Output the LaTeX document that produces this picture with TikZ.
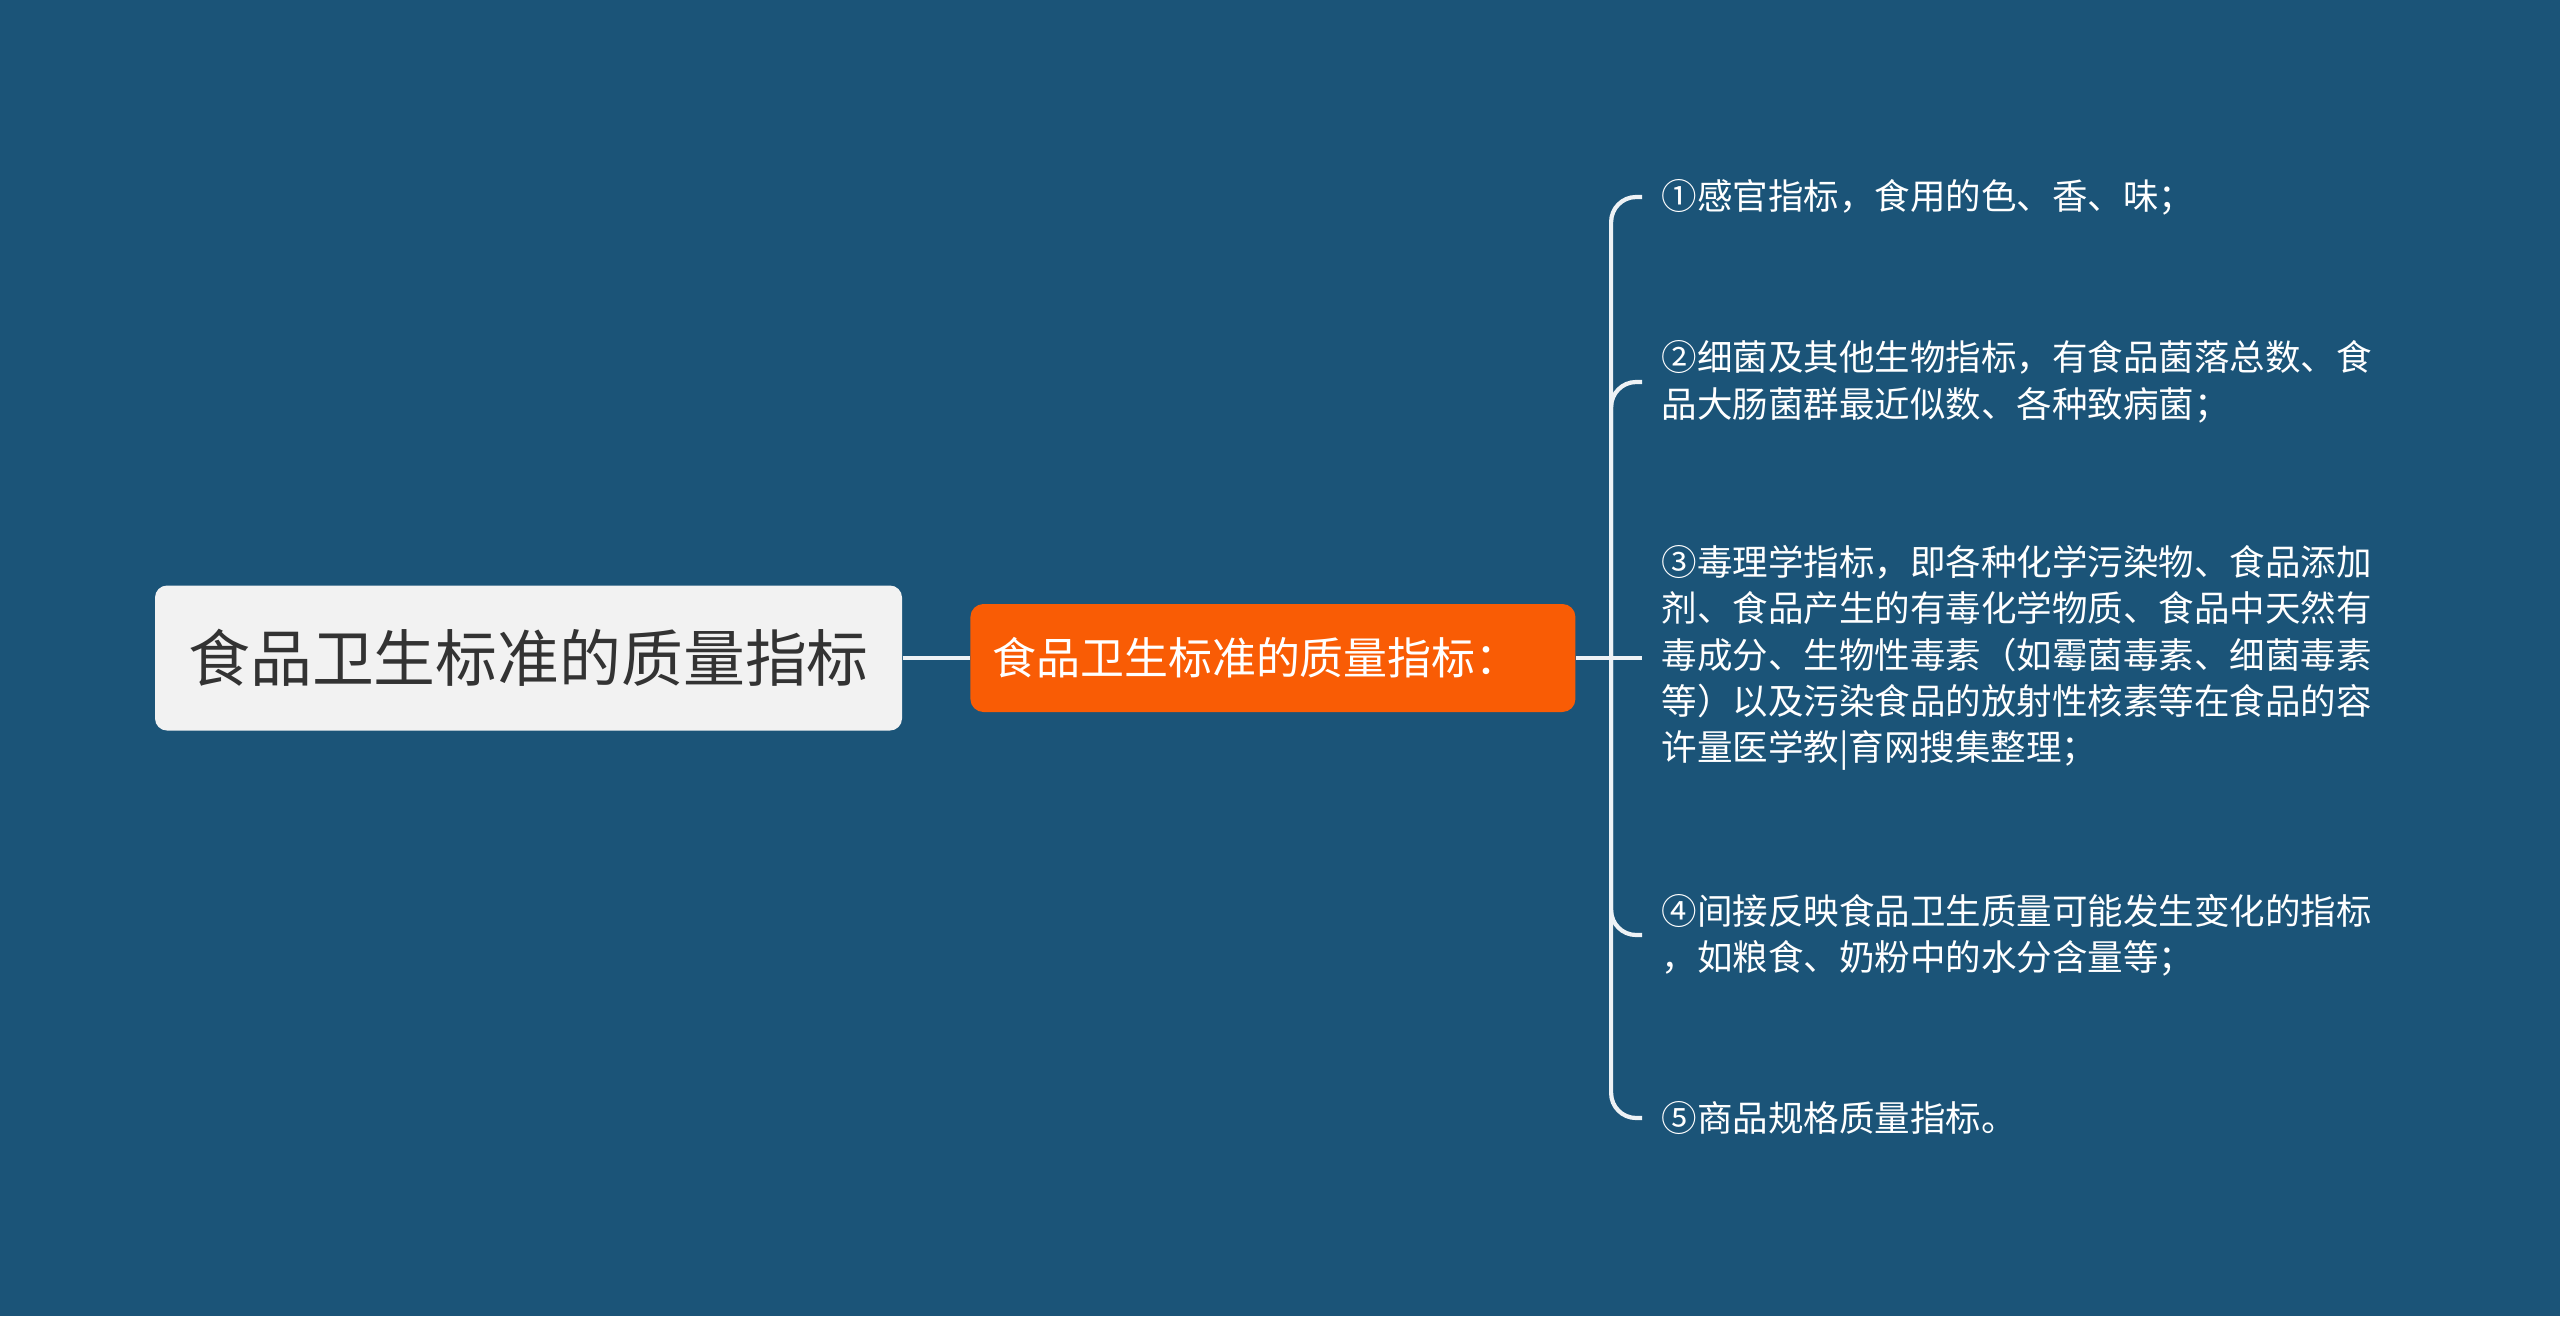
\documentclass[tikz,border=0pt]{standalone}
\usepackage{fontspec}
\newfontfamily\cjk{Noto Sans CJK SC}
\usetikzlibrary{positioning}
\definecolor{back color}{RGB}{27,84,120}
\definecolor{root fill}{RGB}{242,242,242}
\definecolor{root text}{RGB}{51,51,51}
\definecolor{sub fill}{RGB}{249,92,5}
\definecolor{line color}{RGB}{238,242,245}

\begin{document}
\begin{tikzpicture}[
	font=\cjk,
	rootbox/.style={fill=root fill, text=root text, rounded corners=0.12cm,
		minimum width=7.47cm, minimum height=1.45cm, inner sep=0pt,
		font=\cjk\fontsize{17.6pt}{20pt}\selectfont},
	subbox/.style={fill=sub fill, text=white, rounded corners=0.13cm,
		minimum width=6.05cm, minimum height=1.08cm, inner xsep=0.22cm, inner ysep=0pt,
		text width=5.61cm, align=left,
		font=\cjk\fontsize{12.5pt}{15pt}\selectfont},
	item/.style={anchor=west, text=white, inner xsep=0.19cm, inner ysep=0pt,
		align=left, font=\cjk\fontsize{10.1pt}{13.2pt}\selectfont},
	branch/.style={draw=line color, line width=1.2pt, rounded corners=0.25cm}]

% Background
\fill [back color] (0,0) rectangle (25.6,-13.16);
\useasboundingbox (0,0) rectangle (25.6,-13.16);

% Main topics
\node (root) at (5.285,-6.58) [rootbox] {食品卫生标准的质量指标};
\node (sub) [subbox, right=0.67cm of root] {食品卫生标准的质量指标：};
\coordinate [right=0.35cm of sub] (fork);

% Items
\node (i1) at (16.42,-1.97) [item] {①感官指标，食用的色、香、味；};
\node (i2) at (16.42,-3.82) [item] {②细菌及其他生物指标，有食品菌落总数、食\\品大肠菌群最近似数、各种致病菌；};
\node (i3) at (16.42,-6.58) [item] {③毒理学指标，即各种化学污染物、食品添加\\剂、食品产生的有毒化学物质、食品中天然有\\毒成分、生物性毒素（如霉菌毒素、细菌毒素\\等）以及污染食品的放射性核素等在食品的容\\许量医学教|育网搜集整理；};
\node (i4) at (16.42,-9.35) [item] {④间接反映食品卫生质量可能发生变化的指标\\，如粮食、奶粉中的水分含量等；};
\node (i5) at (16.42,-11.18) [item] {⑤商品规格质量指标。};

% Connectors
\draw [branch] (root.east) -- (sub.west);
\draw [branch] (sub.east) -- (i3.west);
\foreach \n in {1,2,4,5} {
    \draw [branch] (fork) |- (i\n.west);
}

\end{tikzpicture}
\end{document}
